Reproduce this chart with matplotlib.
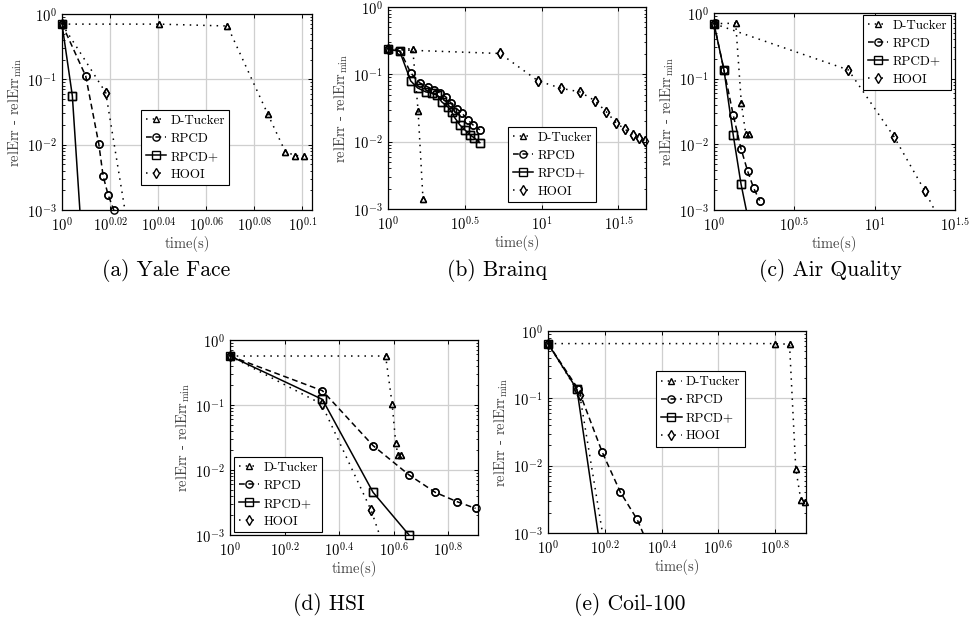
import matplotlib
matplotlib.use('Agg')
import matplotlib.pyplot as plt
from matplotlib.ticker import FixedLocator, FixedFormatter, LogLocator, NullLocator, NullFormatter

plt.rcParams['font.family'] = ['cmr10', 'DejaVu Serif']
plt.rcParams['mathtext.fontset'] = 'cm'
plt.rcParams['axes.formatter.use_mathtext'] = True

methods = ['D-Tucker', 'RPCD', 'RPCD+', 'HOOI']

# ---------------- (a) Yale Face ----------------
yale_dtucker_t = [1.0, 1.0972, 1.1717, 1.2181, 1.2385, 1.2505, 1.2610]
yale_dtucker_e = [0.70, 0.70, 0.655, 0.029, 0.0078, 0.0068, 0.0068]
yale_rpcd_t = [1.0, 1.0230, 1.0359, 1.0402, 1.0452, 1.0508, 1.0560]
yale_rpcd_e = [0.70, 0.112, 0.0102, 0.0033, 0.0017, 0.0010, 0.0005]
yale_rpcdp_t = [1.0, 1.00995, 1.0198]
yale_rpcdp_e = [0.70, 0.056, 0.00025]
yale_hooi_t = [1.0, 1.0428, 1.0654]
yale_hooi_e = [0.70, 0.0625, 0.0005]

# ---------------- (b) Brainq ----------------
brainq_dtucker_t = [1.0, 1.449, 1.570, 1.690]
brainq_dtucker_e = [0.234, 0.24, 0.029, 0.0014]
brainq_rpcd_t = [1.0, 1.2023, 1.4060, 1.6106, 1.8155, 1.9861, 2.1727, 2.3768,
                 2.5645, 2.8054, 3.0200, 3.3113, 3.5645, 3.9628]
brainq_rpcd_e = [0.234, 0.221, 0.105, 0.0745, 0.065, 0.0587, 0.053, 0.0463,
                 0.0377, 0.0307, 0.0268, 0.0211, 0.0178, 0.0150]
brainq_rpcdp_t = [1.0, 1.1912, 1.4060, 1.5596, 1.7620, 1.9275, 2.0749, 2.2387,
                  2.4491, 2.6002, 2.7227, 2.9309, 3.1623, 3.4119, 3.6224, 3.9628]
brainq_rpcdp_e = [0.234, 0.221, 0.0797, 0.0628, 0.0548, 0.053, 0.0495, 0.039,
                  0.0329, 0.0277, 0.0226, 0.0178, 0.0150, 0.0127, 0.0115, 0.00966]
brainq_hooi_t = [1.0, 5.370, 9.506, 13.43, 17.78, 22.18, 26.42, 30.55, 34.75,
                 39.17, 43.15, 47.21]
brainq_hooi_e = [0.234, 0.204, 0.0797, 0.062, 0.0548, 0.0408, 0.0277, 0.0191,
                 0.0154, 0.0127, 0.0112, 0.0102]

# ---------------- (c) Air Quality ----------------
air_dtucker_t = [1.0, 1.3646, 1.4791, 1.5740, 1.6520]
air_dtucker_e = [0.687, 0.70, 0.043, 0.0146, 0.0146]
air_rpcd_t = [1.0, 1.1535, 1.3183, 1.4723, 1.6218, 1.7660, 1.9231]
air_rpcd_e = [0.687, 0.136, 0.0278, 0.0086, 0.00386, 0.00215, 0.00139]
air_rpcdp_t = [1.0, 1.1535, 1.3183, 1.4723, 1.6827]
air_rpcdp_e = [0.687, 0.136, 0.0137, 0.0025, 0.0005]
air_hooi_t = [1.0, 6.855, 13.24, 20.46, 27.29]
air_hooi_e = [0.687, 0.136, 0.0129, 0.00198, 0.0005]

# ---------------- (d) HSI ----------------
hsi_dtucker_t = [1.0, 3.7239, 3.9355, 4.0551, 4.1305, 4.2462]
hsi_dtucker_e = [0.567, 0.567, 0.1035, 0.0264, 0.017, 0.017]
hsi_rpcd_t = [1.0, 2.1827, 3.3497, 4.5394, 5.6624, 6.8077, 7.9616]
hsi_rpcd_e = [0.567, 0.166, 0.0237, 0.0084, 0.00453, 0.00326, 0.00257]
hsi_rpcdp_t = [1.0, 2.1827, 3.3497, 4.5394]
hsi_rpcdp_e = [0.567, 0.122, 0.00453, 0.0010]
hsi_hooi_t = [1.0, 2.1677, 3.2961, 3.7453]
hsi_hooi_e = [0.567, 0.1035, 0.0024, 0.0005]

# ---------------- (e) Coil-100 ----------------
coil_dtucker_t = [1.0, 6.3096, 7.0958, 7.4645, 7.7804, 8.0538]
coil_dtucker_e = [0.65, 0.65, 0.635, 0.009, 0.00307, 0.0029]
coil_rpcd_t = [1.0, 1.2794, 1.5524, 1.7989, 2.0606, 2.3227]
coil_rpcd_e = [0.65, 0.136, 0.0159, 0.00404, 0.00159, 0.0005]
coil_rpcdp_t = [1.0, 1.2647, 1.5382]
coil_rpcdp_e = [0.65, 0.136, 0.0005]
coil_hooi_t = [1.0, 1.2942, 1.5985]
coil_hooi_e = [0.65, 0.112, 0.0005]

# tick values and labels
yale_xticks = [1.0, 1.0471, 1.0965, 1.1482, 1.2023, 1.2589]
yale_xlabels = [r'$10^{0}$', r'$10^{0.02}$', r'$10^{0.04}$', r'$10^{0.06}$', r'$10^{0.08}$', r'$10^{0.1}$']
wide_xticks = [1.0, 3.1623, 10.0, 31.623]
wide_xlabels = [r'$10^{0}$', r'$10^{0.5}$', r'$10^{1}$', r'$10^{1.5}$']
mid_xticks = [1.0, 1.5849, 2.5119, 3.9811, 6.3096]
mid_xlabels = [r'$10^{0}$', r'$10^{0.2}$', r'$10^{0.4}$', r'$10^{0.6}$', r'$10^{0.8}$']
yticks = [1e-3, 1e-2, 1e-1, 1e0]
ylabels_t = [r'$10^{-3}$', r'$10^{-2}$', r'$10^{-1}$', r'$10^{0}$']

captions = ['(a) Yale Face', '(b) Brainq', '(c) Air Quality', '(d) HSI', '(e) Coil-100']

W, H = 969, 621
styles = [
    dict(color='black', lw=1.1, ls=(0, (1.0, 3.4)), marker='^', ms=4.4, mew=1.0, mfc='none'),
    dict(color='black', lw=1.1, ls=(0, (3.8, 2.4)), marker='o', ms=5.2, mew=1.0, mfc='none'),
    dict(color='black', lw=1.1, ls='-', marker='s', ms=5.2, mew=1.0, mfc='none'),
    dict(color='black', lw=1.1, ls=(0, (1.0, 3.4)), marker='d', ms=5.0, mew=1.0, mfc='none'),
]

panels = [
    dict(rect=(62, 14, 312, 210), xmax=1.2706, xt=yale_xticks, xl=yale_xlabels,
         series=[(yale_dtucker_t, yale_dtucker_e), (yale_rpcd_t, yale_rpcd_e),
                 (yale_rpcdp_t, yale_rpcdp_e), (yale_hooi_t, yale_hooi_e)],
         leg=(0.316, 0.51), cap=(166, 271)),
    dict(rect=(388, 7, 646, 209), xmax=47.86, xt=wide_xticks, xl=wide_xlabels,
         series=[(brainq_dtucker_t, brainq_dtucker_e), (brainq_rpcd_t, brainq_rpcd_e),
                 (brainq_rpcdp_t, brainq_rpcdp_e), (brainq_hooi_t, brainq_hooi_e)],
         leg=(0.465, 0.406), cap=(497, 271)),
    dict(rect=(714, 13, 955, 210), xmax=31.623, xt=wide_xticks, xl=wide_xlabels,
         series=[(air_dtucker_t, air_dtucker_e), (air_rpcd_t, air_rpcd_e),
                 (air_rpcdp_t, air_rpcdp_e), (air_hooi_t, air_hooi_e)],
         leg=(0.618, 0.99), cap=(830, 271)),
    dict(rect=(230, 340, 478, 535), xmax=8.128, xt=mid_xticks, xl=mid_xlabels,
         series=[(hsi_dtucker_t, hsi_dtucker_e), (hsi_rpcd_t, hsi_rpcd_e),
                 (hsi_rpcdp_t, hsi_rpcdp_e), (hsi_hooi_t, hsi_hooi_e)],
         leg=(0.016, 0.40), cap=(329, 604)),
    dict(rect=(548, 331, 806, 533), xmax=8.110, xt=mid_xticks, xl=mid_xlabels,
         series=[(coil_dtucker_t, coil_dtucker_e), (coil_rpcd_t, coil_rpcd_e),
                 (coil_rpcdp_t, coil_rpcdp_e), (coil_hooi_t, coil_hooi_e)],
         leg=(0.419, 0.80), cap=(630, 604)),
]

fig = plt.figure(figsize=(W / 100, H / 100), dpi=100)

for i, p in enumerate(panels):
    l, t, r, b = p['rect']
    ax = fig.add_axes([l / W, 1 - b / H, (r - l) / W, (b - t) / H])
    ax.set_xscale('log')
    ax.set_yscale('log')
    ax.set_xlim(1.0, p['xmax'])
    ax.set_ylim(1e-3, 1.0)
    for (tt, ee), name, st in zip(p['series'], methods, styles):
        ax.plot(tt, ee, label=name, zorder=3, **st)
        inside = [(a, c) for a, c in zip(tt, ee) if c >= 0.999e-3 and a <= p['xmax']]
        if inside:
            ax.plot([a for a, _ in inside], [c for _, c in inside], ls='none',
                    marker=st['marker'], ms=st['ms'], mew=st['mew'], mfc='none',
                    color='black', clip_on=False, zorder=4)
    ax.xaxis.set_major_locator(FixedLocator(p['xt']))
    ax.xaxis.set_major_formatter(FixedFormatter(p['xl']))
    ax.xaxis.set_minor_locator(NullLocator())
    ax.yaxis.set_major_locator(FixedLocator(yticks))
    ax.yaxis.set_major_formatter(FixedFormatter(ylabels_t))
    ax.yaxis.set_minor_locator(LogLocator(base=10, subs=range(2, 10)))
    ax.yaxis.set_minor_formatter(NullFormatter())
    ax.grid(True, which='major', color='#cfcfcf', lw=0.9)
    ax.set_axisbelow(True)
    ax.tick_params(which='both', direction='in', top=True, right=True, colors='black',
                   labelsize=10.5, pad=4)
    ax.tick_params(which='major', length=3.2, width=0.7)
    ax.tick_params(which='minor', length=1.8, width=0.6)
    for s in ax.spines.values():
        s.set_linewidth(0.9)
        s.set_color('black')
    ax.set_xlabel('time(s)', fontsize=10.5, labelpad=2, color='#444444')
    ax.set_ylabel(r'relErr - relErr$_{\mathrm{min}}$', fontsize=10.5, labelpad=2,
                  color='#444444')
    leg = ax.legend(loc='upper left', bbox_to_anchor=p['leg'], borderaxespad=0,
                    fontsize=9.4, frameon=True, fancybox=False, framealpha=1,
                    edgecolor='black', handlelength=1.6, handletextpad=0.3,
                    labelspacing=0.45, borderpad=0.35)
    leg.get_frame().set_linewidth(0.8)
    leg.set_zorder(10)
    fig.text(p['cap'][0] / W, 1 - p['cap'][1] / H, captions[i], ha='center', va='center',
             fontsize=15.5)

fig.savefig('out.png', dpi=100)
